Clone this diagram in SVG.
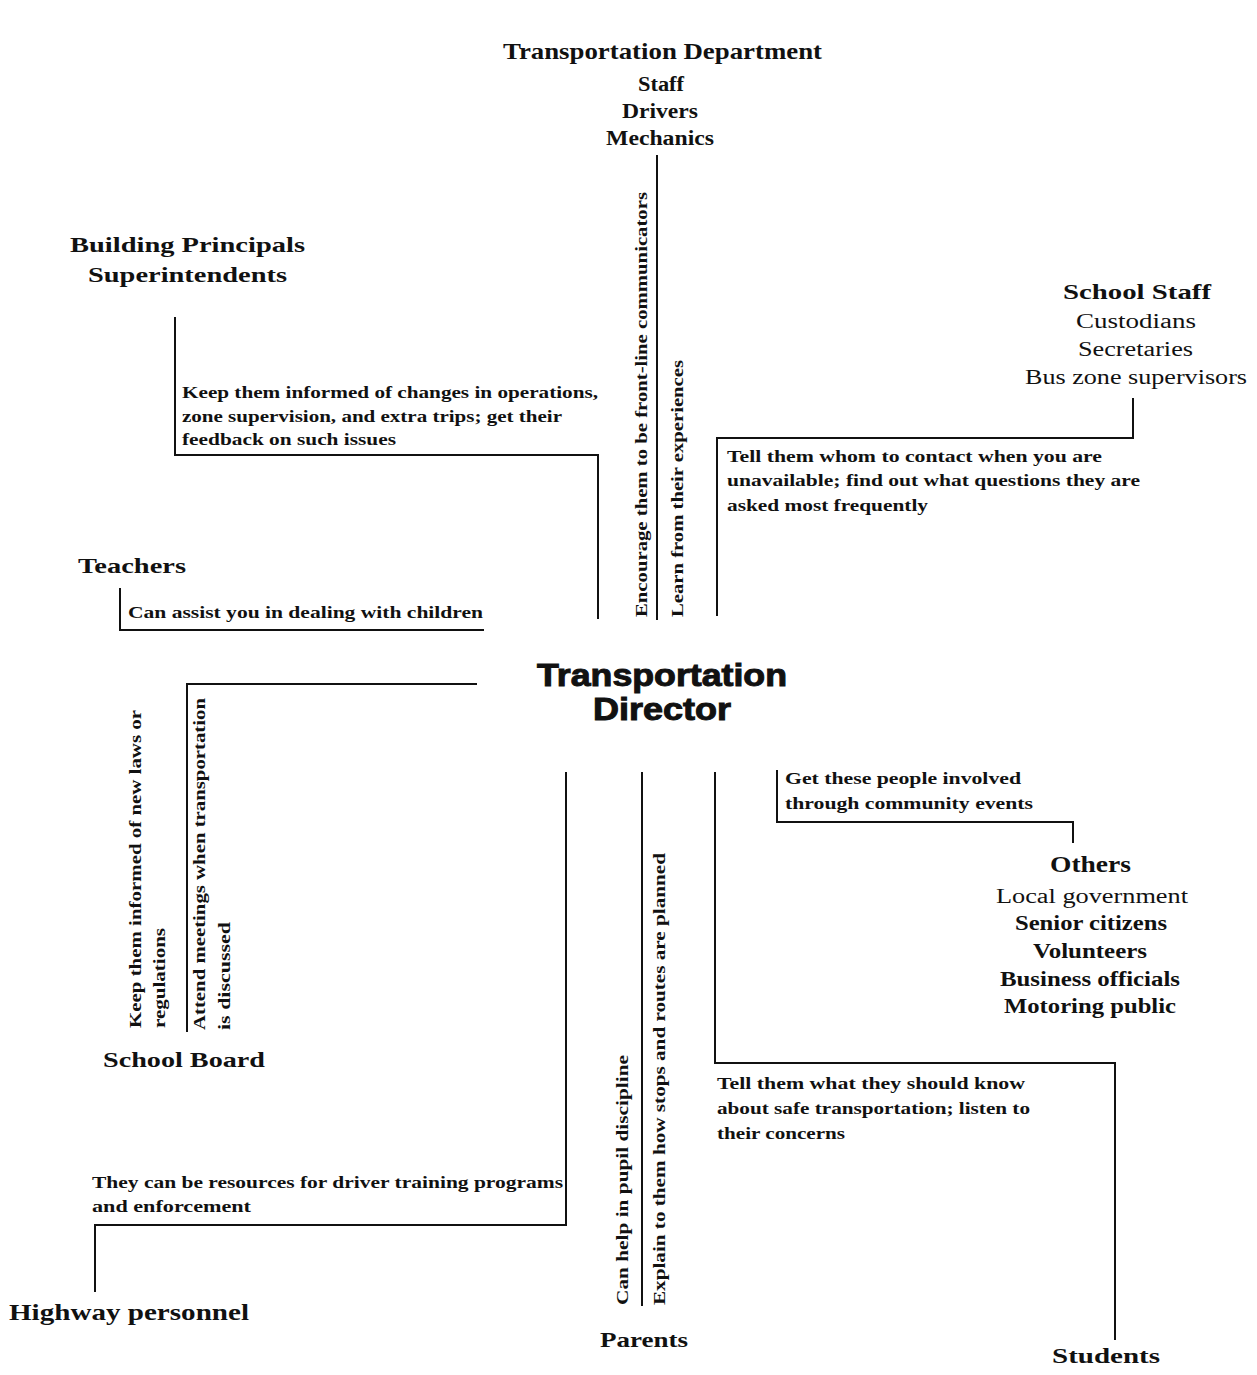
<svg xmlns="http://www.w3.org/2000/svg" width="1257" height="1375" viewBox="0 0 1257 1375">
<style>
.bg{fill:#fff}
.c{fill:none;stroke:#111;stroke-width:2}
.h{font-family:"Liberation Serif","DejaVu Serif",serif;font-weight:bold;fill:#111}
.s{font-family:"Liberation Serif","DejaVu Serif",serif;fill:#111}
.d{font-family:"Liberation Serif","DejaVu Serif",serif;font-weight:bold;font-size:16px;fill:#111}
.dir{font-family:"Liberation Sans",Arial,sans-serif;font-weight:900;font-size:31px;fill:#111;stroke:#111;stroke-width:1}
</style>
<rect class="bg" width="1257" height="1375"/>
<g id="connectors">
<polyline class="c" points="657,155 657,620"/>
<polyline class="c" points="175,317 175,455 598,455 598,619"/>
<polyline class="c" points="1133,398 1133,438 717,438 717,616"/>
<polyline class="c" points="120,588 120,630 484,630"/>
<polyline class="c" points="477,684 187,684 187,1032"/>
<polyline class="c" points="642,772 642,1306"/>
<polyline class="c" points="566,772 566,1225 95,1225 95,1292"/>
<polyline class="c" points="715,772 715,1063 1115,1063 1115,1340"/>
<polyline class="c" points="777,770 777,822 1073,822 1073,843"/>
</g>
<g id="director">
<text class="dir" x="537" y="686" textLength="250" lengthAdjust="spacingAndGlyphs">Transportation</text>
<text class="dir" x="593" y="720" textLength="138" lengthAdjust="spacingAndGlyphs">Director</text>
</g>
<g id="transportation-department">
<text class="h" font-size="23" x="503" y="59" textLength="319" lengthAdjust="spacingAndGlyphs">Transportation Department</text>
<text class="h" font-size="20" x="638" y="91" textLength="46" lengthAdjust="spacingAndGlyphs">Staff</text>
<text class="h" font-size="20" x="622" y="118" textLength="76" lengthAdjust="spacingAndGlyphs">Drivers</text>
<text class="h" font-size="20" x="606" y="145" textLength="108" lengthAdjust="spacingAndGlyphs">Mechanics</text>
<text class="d" transform="translate(647,617) rotate(-90)" textLength="425" lengthAdjust="spacingAndGlyphs">Encourage them to be front-line communicators</text>
<text class="d" transform="translate(683,617) rotate(-90)" textLength="257" lengthAdjust="spacingAndGlyphs">Learn from their experiences</text>
</g>
<g id="building-principals">
<text class="h" font-size="22" x="70" y="252" textLength="235" lengthAdjust="spacingAndGlyphs">Building Principals</text>
<text class="h" font-size="22" x="88" y="282" textLength="199" lengthAdjust="spacingAndGlyphs">Superintendents</text>
<text class="d" x="182" y="398" textLength="416" lengthAdjust="spacingAndGlyphs">Keep them informed of changes in operations,</text>
<text class="d" x="182" y="422" textLength="380" lengthAdjust="spacingAndGlyphs">zone supervision, and extra trips; get their</text>
<text class="d" x="182" y="445" textLength="214" lengthAdjust="spacingAndGlyphs">feedback on such issues</text>
</g>
<g id="school-staff">
<text class="h" font-size="22" x="1063" y="299" textLength="148" lengthAdjust="spacingAndGlyphs">School Staff</text>
<text class="s" font-size="20" x="1076" y="328" textLength="120" lengthAdjust="spacingAndGlyphs">Custodians</text>
<text class="s" font-size="20" x="1078" y="356" textLength="115" lengthAdjust="spacingAndGlyphs">Secretaries</text>
<text class="s" font-size="20" x="1025" y="384" textLength="222" lengthAdjust="spacingAndGlyphs">Bus zone supervisors</text>
<text class="d" x="727" y="462" textLength="375" lengthAdjust="spacingAndGlyphs">Tell them whom to contact when you are</text>
<text class="d" x="727" y="486" textLength="413" lengthAdjust="spacingAndGlyphs">unavailable; find out what questions they are</text>
<text class="d" x="727" y="511" textLength="201" lengthAdjust="spacingAndGlyphs">asked most frequently</text>
</g>
<g id="teachers">
<text class="h" font-size="21" x="78" y="573" textLength="108" lengthAdjust="spacingAndGlyphs">Teachers</text>
<text class="d" x="128" y="618" textLength="355" lengthAdjust="spacingAndGlyphs">Can assist you in dealing with children</text>
</g>
<g id="school-board">
<text class="d" transform="translate(141,1028) rotate(-90)" textLength="318" lengthAdjust="spacingAndGlyphs">Keep them informed of new laws or</text>
<text class="d" transform="translate(165,1028) rotate(-90)" textLength="100" lengthAdjust="spacingAndGlyphs">regulations</text>
<text class="d" transform="translate(205,1030) rotate(-90)" textLength="332" lengthAdjust="spacingAndGlyphs">Attend meetings when transportation</text>
<text class="d" transform="translate(230,1030) rotate(-90)" textLength="108" lengthAdjust="spacingAndGlyphs">is discussed</text>
<text class="h" font-size="22" x="103" y="1067" textLength="162" lengthAdjust="spacingAndGlyphs">School Board</text>
</g>
<g id="others">
<text class="d" x="785" y="784" textLength="236" lengthAdjust="spacingAndGlyphs">Get these people involved</text>
<text class="d" x="785" y="809" textLength="248" lengthAdjust="spacingAndGlyphs">through community events</text>
<text class="h" font-size="23" x="1050" y="872" textLength="81" lengthAdjust="spacingAndGlyphs">Others</text>
<text class="s" font-size="20" x="996" y="903" textLength="192" lengthAdjust="spacingAndGlyphs">Local government</text>
<text class="h" font-size="20" x="1015" y="930" textLength="152" lengthAdjust="spacingAndGlyphs">Senior citizens</text>
<text class="h" font-size="20" x="1033" y="958" textLength="114" lengthAdjust="spacingAndGlyphs">Volunteers</text>
<text class="h" font-size="20" x="1000" y="986" textLength="180" lengthAdjust="spacingAndGlyphs">Business officials</text>
<text class="h" font-size="20" x="1004" y="1013" textLength="172" lengthAdjust="spacingAndGlyphs">Motoring public</text>
</g>
<g id="parents">
<text class="d" transform="translate(628,1305) rotate(-90)" textLength="250" lengthAdjust="spacingAndGlyphs">Can help in pupil discipline</text>
<text class="d" transform="translate(665,1305) rotate(-90)" textLength="452" lengthAdjust="spacingAndGlyphs">Explain to them how stops and routes are planned</text>
<text class="h" font-size="21" x="600" y="1347" textLength="88" lengthAdjust="spacingAndGlyphs">Parents</text>
</g>
<g id="highway-personnel">
<text class="d" x="92" y="1188" textLength="471" lengthAdjust="spacingAndGlyphs">They can be resources for driver training programs</text>
<text class="d" x="92" y="1212" textLength="159" lengthAdjust="spacingAndGlyphs">and enforcement</text>
<text class="h" font-size="23" x="9" y="1320" textLength="240" lengthAdjust="spacingAndGlyphs">Highway personnel</text>
</g>
<g id="students">
<text class="d" x="717" y="1089" textLength="308" lengthAdjust="spacingAndGlyphs">Tell them what they should know</text>
<text class="d" x="717" y="1114" textLength="313" lengthAdjust="spacingAndGlyphs">about safe transportation; listen to</text>
<text class="d" x="717" y="1139" textLength="128" lengthAdjust="spacingAndGlyphs">their concerns</text>
<text class="h" font-size="21" x="1052" y="1363" textLength="108" lengthAdjust="spacingAndGlyphs">Students</text>
</g>
</svg>
